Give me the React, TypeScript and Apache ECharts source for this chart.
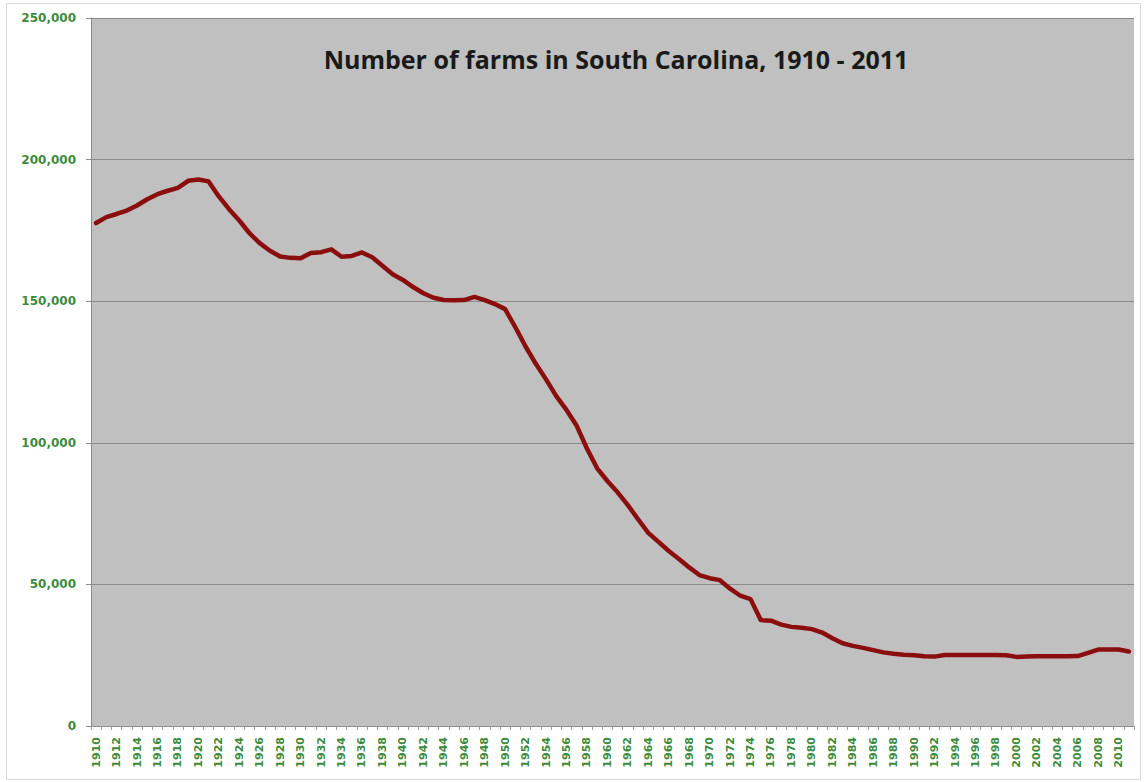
import React, { useEffect, useRef } from "react";
import * as echarts from "echarts";

const years: string[] = [];
for (let y = 1910; y <= 2011; y++) years.push(String(y));

const farms: number[] = [
  // 1910-1919
  177600, 179700, 180800, 182000, 183800, 186000, 187800, 189000, 190000, 192500,
  // 1920-1929
  193000, 192300, 187000, 182500, 178500, 174000, 170500, 167800, 165800, 165300,
  // 1930-1939
  165200, 167000, 167300, 168300, 165700, 166000, 167200, 165500, 162500, 159500,
  // 1940-1949
  157500, 155000, 152800, 151200, 150400, 150300, 150400, 151500, 150400, 149000,
  // 1950-1959
  147200, 140800, 134000, 127900, 122400, 116500, 111600, 106000, 98000, 91000,
  // 1960-1969
  86500, 82500, 78000, 73000, 68200, 65000, 61800, 59000, 56000, 53300,
  // 1970-1979
  52200, 51500, 48500, 46000, 44800, 37400, 37200, 35800, 35000, 34700,
  // 1980-1989
  34200, 33000, 31000, 29200, 28300, 27600, 26800, 26000, 25500, 25200,
  // 1990-1999
  25000, 24600, 24500, 25100, 25100, 25100, 25100, 25100, 25100, 25000,
  // 2000-2009
  24400, 24500, 24600, 24600, 24600, 24600, 24700, 25800, 27000, 27000,
  // 2010-2011
  27000, 26300,
];

const yTicks = { min: 0, max: 250000, interval: 50000 };
const title = "Number of farms in South Carolina, 1910 - 2011";

const labelGreen = "#3d8b3d";

export default function App() {
  const ref = useRef<HTMLDivElement>(null);
  useEffect(() => {
    if (!ref.current) return;
    const chart = echarts.init(ref.current, undefined, { renderer: "svg" });
    chart.setOption({
      animation: false,
      backgroundColor: "#ffffff",
      title: {
        text: title,
        left: 611,
        top: 41,
        textAlign: "center",
        textStyle: {
          fontFamily: "Open Sans",
          fontSize: 25,
          fontWeight: "bold",
          color: "#1a1a1a",
        },
      },
      graphic: [
        {
          type: "rect",
          shape: { x: 6.5, y: 3.5, width: 1134, height: 776 },
          style: { fill: "none", stroke: "#d9d9d9", lineWidth: 1 },
          silent: true,
          z: -1,
        },
      ],
      grid: {
        left: 91,
        right: 10,
        top: 18,
        bottom: 56,
        show: true,
        backgroundColor: "#c0c0c0",
        borderWidth: 0,
      },
      xAxis: {
        type: "category",
        data: years,
        boundaryGap: true,
        axisLine: { show: true, lineStyle: { color: "#8c8c8c", width: 1 } },
        axisTick: {
          show: true,
          interval: 0,
          length: 4,
          lineStyle: { color: "#9a9a9a" },
        },
        axisLabel: {
          interval: 1,
          rotate: 90,
          margin: 11,
          color: labelGreen,
          fontFamily: "DejaVu Sans",
          fontWeight: "bold",
          fontSize: 11,
        },
        splitLine: { show: false },
      },
      yAxis: {
        type: "value",
        min: yTicks.min,
        max: yTicks.max,
        interval: yTicks.interval,
        axisLine: { show: true, lineStyle: { color: "#8c8c8c", width: 1 } },
        axisTick: { show: true, length: 5, lineStyle: { color: "#8c8c8c" } },
        axisLabel: {
          margin: 15,
          color: labelGreen,
          fontFamily: "DejaVu Sans",
          fontWeight: "bold",
          fontSize: 12,
          formatter: (v: number) => v.toLocaleString("en-US"),
        },
        splitLine: { show: true, lineStyle: { color: "#8a8a8a", width: 1 } },
      },
      series: [
        {
          type: "line",
          data: farms,
          showSymbol: false,
          symbol: "none",
          smooth: false,
          lineStyle: { color: "#8b0e0e", width: 4.5, join: "round", cap: "round" },
          itemStyle: { color: "#8b0e0e" },
        },
      ],
    });
    return () => chart.dispose();
  }, []);
  return (
    <div
      ref={ref}
      style={{ position: "fixed", left: 0, top: 0, width: 1144, height: 782 }}
    />
  );
}
